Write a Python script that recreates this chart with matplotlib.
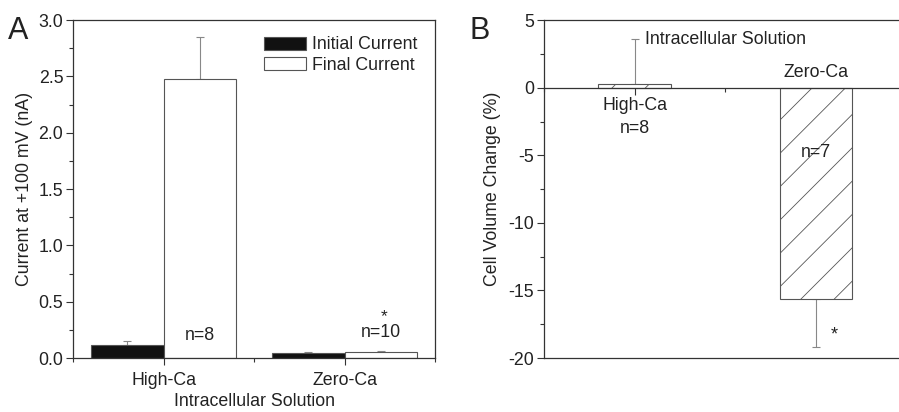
import matplotlib
matplotlib.use("Agg")
import matplotlib.pyplot as plt
from matplotlib.ticker import MultipleLocator

plt.rcParams['font.family'] = ['Liberation Sans', 'DejaVu Sans']
plt.rcParams['hatch.linewidth'] = 0.6
plt.rcParams['hatch.color'] = '#666666'
plt.rcParams['axes.unicode_minus'] = False

# panel A data
groups = ['High-Ca', 'Zero-Ca']
initial_current = [0.12, 0.045]
initial_err = [0.03, 0.012]
final_current = [2.48, 0.055]
final_err = [0.37, 0.01]
n_labels_a = ['n=8', 'n=10']

# panel B data
volume_change = [0.25, -15.6]
volume_err = [3.35, 3.55]
n_labels_b = ['n=8', 'n=7']

txt = '#222222'
spine_c = '#333333'
edge_c = '#555555'
err_c = '#888888'
fs = 12.8

fig = plt.figure(figsize=(8.99, 4.12), dpi=100)

# ---------- panel A ----------
axA = fig.add_axes([0.0812, 0.131, 0.4027, 0.820])
x = [1, 2]
w = 0.4
xi = [v - w / 2 for v in x]
xf = [v + w / 2 for v in x]
axA.bar(xi, initial_current, width=w, color='#111111', edgecolor=edge_c, lw=0.8,
        label='Initial Current', zorder=2)
axA.bar(xf, final_current, width=w, color='white', edgecolor=edge_c, lw=0.8,
        label='Final Current', zorder=2)
axA.errorbar(xi, initial_current, yerr=[[0, 0], initial_err], fmt='none',
             ecolor=err_c, elinewidth=0.8, capsize=3, capthick=0.8, zorder=1)
axA.errorbar(xf, final_current, yerr=[[0, 0], final_err], fmt='none',
             ecolor=err_c, elinewidth=0.8, capsize=3, capthick=0.8, zorder=1)

axA.set_xlim(0.5, 2.5)
axA.set_ylim(0, 3.0)
axA.set_xticks(x, groups)
axA.xaxis.set_minor_locator(MultipleLocator(0.5))
axA.yaxis.set_major_locator(MultipleLocator(0.5))
axA.yaxis.set_minor_locator(MultipleLocator(0.25))
axA.yaxis.set_major_formatter(matplotlib.ticker.FormatStrFormatter('%.1f'))
axA.tick_params(which='major', length=5, width=0.8, color=spine_c, labelsize=fs,
                labelcolor=txt, pad=2)
axA.tick_params(axis='x', which='major', pad=5)
axA.tick_params(which='minor', length=3, width=0.8, color=spine_c)
for s in axA.spines.values():
    s.set_color(spine_c)
    s.set_linewidth(0.9)
axA.set_ylabel('Current at +100 mV (nA)', fontsize=fs, color=txt, labelpad=4)
axA.set_xlabel('Intracellular Solution', fontsize=fs, color=txt, labelpad=3)

axA.text(xf[0], 0.2, n_labels_a[0], ha='center', va='center', fontsize=fs, color=txt)
axA.text(xf[1], 0.225, n_labels_a[1], ha='center', va='center', fontsize=fs, color=txt)
axA.text(xf[1] + 0.02, 0.33, '*', ha='center', va='baseline', fontsize=12.5, color=txt)

leg = axA.legend(loc='upper right', bbox_to_anchor=(0.952, 0.952), frameon=False,
                 fontsize=fs, handlelength=2.36, handleheight=0.75, handletextpad=0.34,
                 labelspacing=0.2, borderaxespad=0, borderpad=0)
for t in leg.get_texts():
    t.set_color(txt)

fig.text(0.009, 0.925, 'A', fontsize=22, color=txt, ha='left', va='center')

# ---------- panel B ----------
axB = fig.add_axes([0.605, 0.131, 0.4033, 0.820])
axB.bar(x, volume_change, width=w, color='white', edgecolor=edge_c, lw=0.8,
        hatch='/', zorder=2)
axB.errorbar([x[0]], [volume_change[0]], yerr=[[0], [volume_err[0]]], fmt='none',
             ecolor=err_c, elinewidth=0.8, capsize=3, capthick=0.8, zorder=1)
axB.errorbar([x[1]], [volume_change[1]], yerr=[[volume_err[1]], [0]], fmt='none',
             ecolor=err_c, elinewidth=0.8, capsize=3, capthick=0.8, zorder=1)

axB.set_xlim(0.5, 2.5)
axB.set_ylim(-20, 5)
axB.spines['bottom'].set_position(('data', 0))
axB.spines['right'].set_visible(False)
axB.axhline(-20, color=spine_c, lw=0.9, clip_on=False, zorder=3)
axB.set_xticks(x, [groups[0], ''])
axB.xaxis.set_minor_locator(MultipleLocator(0.5))
axB.yaxis.set_major_locator(MultipleLocator(5))
axB.yaxis.set_minor_locator(MultipleLocator(2.5))
axB.tick_params(which='major', length=5, width=0.8, color=spine_c, labelsize=fs,
                labelcolor=txt, pad=2)
axB.tick_params(which='minor', length=3, width=0.8, color=spine_c)
for s in axB.spines.values():
    s.set_color(spine_c)
    s.set_linewidth(0.9)
axB.set_ylabel('Cell Volume Change (%)', fontsize=fs, color=txt, labelpad=5)

axB.text(1.5, 3.55, 'Intracellular Solution', ha='center', va='center', fontsize=fs, color=txt)
axB.text(x[1], 1.15, groups[1], ha='center', va='center', fontsize=fs, color=txt)
axB.text(x[0], -3.05, n_labels_b[0], ha='center', va='center', fontsize=fs, color=txt)
axB.text(x[1], -4.8, n_labels_b[1], ha='center', va='center', fontsize=fs, color=txt)
axB.text(2.1, -18.3, '*', ha='center', va='center', fontsize=13, color=txt)

fig.text(0.522, 0.925, 'B', fontsize=22, color=txt, ha='left', va='center')

fig.savefig('out.png', dpi=100)
